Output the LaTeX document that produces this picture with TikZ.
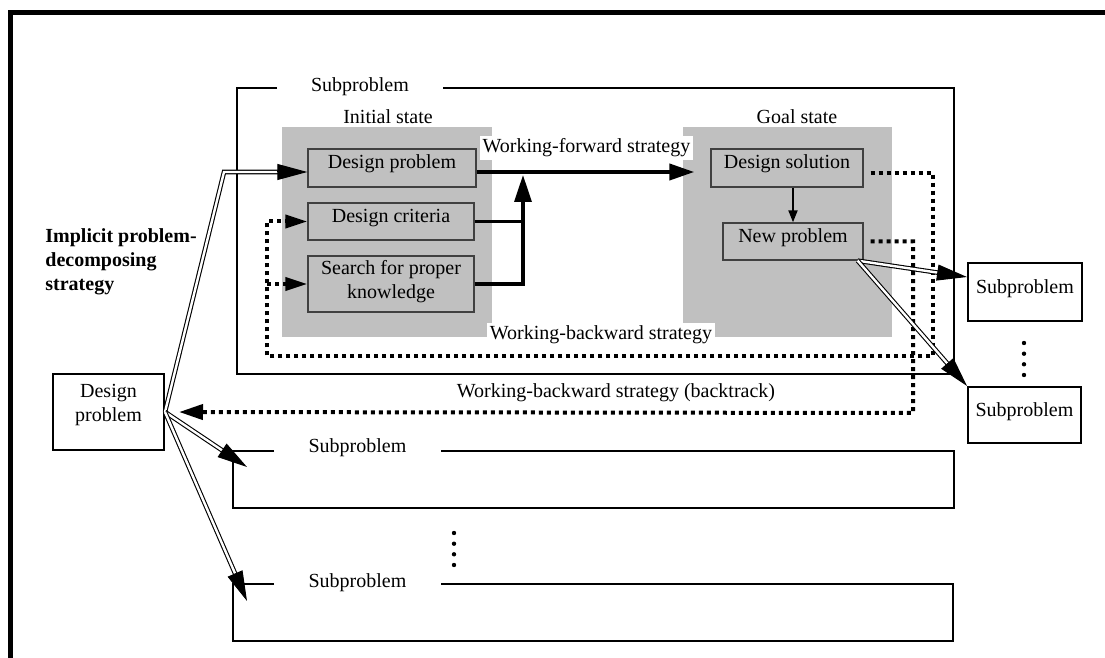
\documentclass[tikz,border=0pt]{standalone}
\usepackage{fontspec}
\setmainfont{Liberation Serif}
\usetikzlibrary{arrows.meta,calc}

\definecolor{stipple}{RGB}{192,192,192}

\begin{document}
\begin{tikzpicture}[x=0.5pt,y=-0.5pt,
  statearea/.style={fill=stipple, draw=none, inner sep=0pt},
  inbox/.style={draw=black!75, line width=0.7pt, fill=stipple, inner sep=0pt},
  outbox/.style={draw=black, line width=1pt, fill=white, inner sep=0pt},
  oneline/.style={text height=7pt, text depth=6pt},
  subframe/.style={draw=black, line width=1pt},
  lbl/.style={fill=white, inner sep=1.5pt, text height=7pt, text depth=2pt},
  plain/.style={inner sep=1pt, text height=7pt, text depth=2pt},
  heavy/.style={line width=2pt},
  dotline/.style={line width=2pt, dash pattern=on 2pt off 2pt},
  dbl/.style={draw=black, double=white, double distance=1.2pt, line width=0.55pt},
  dhead/.style={line width=0.5pt, -{Triangle[length=15pt,width=8pt]}},
]
\useasboundingbox (0,0) rectangle (1105,658);

% heavy outer rule, top and left
\draw[line width=2.5pt] (1120,13) -- (10,13) -- (10,670);

% ---------- top subproblem frame ----------
\node[plain] (sub0T) at (360,87) {Subproblem};
\draw[subframe] (277,88) -- (237,88) -- (237,374) -- (954,374) -- (954,88) -- (443,88);

% ---------- state areas ----------
\node[statearea, minimum width=105pt, minimum height=105pt] (init) at (387,232) {};
\node[statearea, minimum width=104.5pt, minimum height=105pt] (goal) at (787.5,232) {};
\node[plain] (initT) at (388,119) {Initial state};
\node[plain] (goalT) at (797,119) {Goal state};

% boxes of the initial state
\node[inbox, oneline, minimum width=84pt, minimum height=19pt] (dp) at (392,168) {Design problem};
\node[inbox, oneline, minimum width=83pt, minimum height=18.5pt] (crit) at (391,221.5) {Design criteria};
\node[inbox, minimum width=83pt, minimum height=28pt] (search) at (391,284) {};
\node[align=center, inner sep=0pt] (searchT) at (391,281.5) {Search for proper\\knowledge};

% boxes of the goal state
\node[inbox, oneline, minimum width=76pt, minimum height=19pt] (sol) at (787,168) {Design solution};
\node[inbox, oneline, minimum width=70pt, minimum height=18.5pt] (newp) at (793,241.5) {New problem};

% ---------- outside boxes ----------
\node[outbox, minimum width=55.5pt, minimum height=38pt] (dp0) at (108.5,412) {};
\node[align=center, inner sep=0pt] (dp0T) at (108.5,405.5) {Design\\problem};
\node[outbox, oneline, minimum width=57pt, minimum height=29pt] (sub1) at (1025,292) {Subproblem};
\node[outbox, oneline, minimum width=56.5pt, minimum height=28pt] (sub2) at (1024.5,415) {Subproblem};
\foreach \yy in {343,353.7,364.3,375} \fill (1024,\yy) circle (1.1pt);

% ---------- lower subproblem frames ----------
\node[plain] (subAT) at (357.5,447) {Subproblem};
\draw[subframe] (274,451) -- (233,451) -- (233,508) -- (954,508) -- (954,451) -- (441,451);
\foreach \yy in {533,543.7,554.3,565} \fill (454,\yy) circle (1.1pt);
\node[plain] (subBT) at (357.5,582) {Subproblem};
\draw[subframe] (274,584) -- (233,584) -- (233,641) -- (953,641) -- (953,584) -- (441,584);

\node[anchor=west, align=left, font=\bfseries, inner sep=0pt] (implT) at (45,262)
  {Implicit problem-\\decomposing\\strategy};

% ---------- working-forward strategy ----------
\coordinate (j) at (523,172);
\draw[heavy, -{Triangle[length=12.5pt,width=8pt]}, shorten >=8pt]
  ([yshift=-2pt]dp.east) -- ([yshift=-2pt]sol.west);
\draw[line width=1.7pt] (crit.east) -- (crit.east -| j);
\draw[line width=1.7pt, -{Triangle[length=13.5pt,width=8.5pt]}]
  (search.east) -| ([yshift=-1.5pt]j);
\node[lbl] (fwdT) at (586.5,148) {Working-forward strategy};

\draw[line width=1pt, -{Triangle[length=6pt,width=4.5pt]}]
  (newp.north |- sol.south) -- (newp.north);

% ---------- working-backward strategy ----------
\coordinate (b1) at (933,173);
\coordinate (b2) at (933,356);
\coordinate (b3) at (267,356);
\draw[dotline, -{Triangle[length=11pt,width=6.5pt]}]
  ([xshift=3.5pt,yshift=-2.5pt]sol.east) -- (b1) -- (b2) -- (b3) |- (crit.west);
\draw[dotline, -{Triangle[length=11pt,width=6.5pt]}] (b3 |- search.west) -- (search.west);
\node[lbl] (bwdT) at (601,335) {Working-backward strategy};

% backtrack
\coordinate (c1) at (913,241.5);
\coordinate (c2) at (913,413);
\draw[dotline, -{Triangle[length=12pt,width=7.5pt]}, shorten >=7pt]
  ([xshift=3.5pt]newp.east) -- (c1) -- (c2) -- (dp0.east);
\node[plain] (btT) at (616,393) {Working-backward strategy (backtrack)};

% ---------- problem-decomposing arrows (double shafts) ----------
\coordinate (bendA) at (224,172);
\coordinate (tA) at ([yshift=-2pt]dp.west);
\draw[dbl, shorten >=11pt] (dp0.east) -- (bendA) -- (tA);
\draw[dhead] ($(tA)!15pt!(bendA)$) -- (tA);

\coordinate (tB) at (247,467);
\draw[dbl, shorten >=11pt] (dp0.east) -- (tB);
\draw[dhead] ($(tB)!15pt!(dp0.east)$) -- (tB);

\coordinate (tC) at (247,601);
\draw[dbl, shorten >=11pt] (dp0.east) -- (tC);
\draw[dhead] ($(tC)!15pt!(dp0.east)$) -- (tC);

\coordinate (np) at ([xshift=-3pt]newp.south east);
\coordinate (tD) at ([yshift=7.5pt]sub1.west);
\draw[dbl, shorten >=11pt] (np) -- (tD);
\draw[dhead] ($(tD)!15pt!(np)$) -- (tD);

\coordinate (tE) at (sub2.north west);
\draw[dbl, shorten >=11pt] (np) -- (tE);
\draw[dhead] ($(tE)!15pt!(np)$) -- (tE);
\end{tikzpicture}
\end{document}
